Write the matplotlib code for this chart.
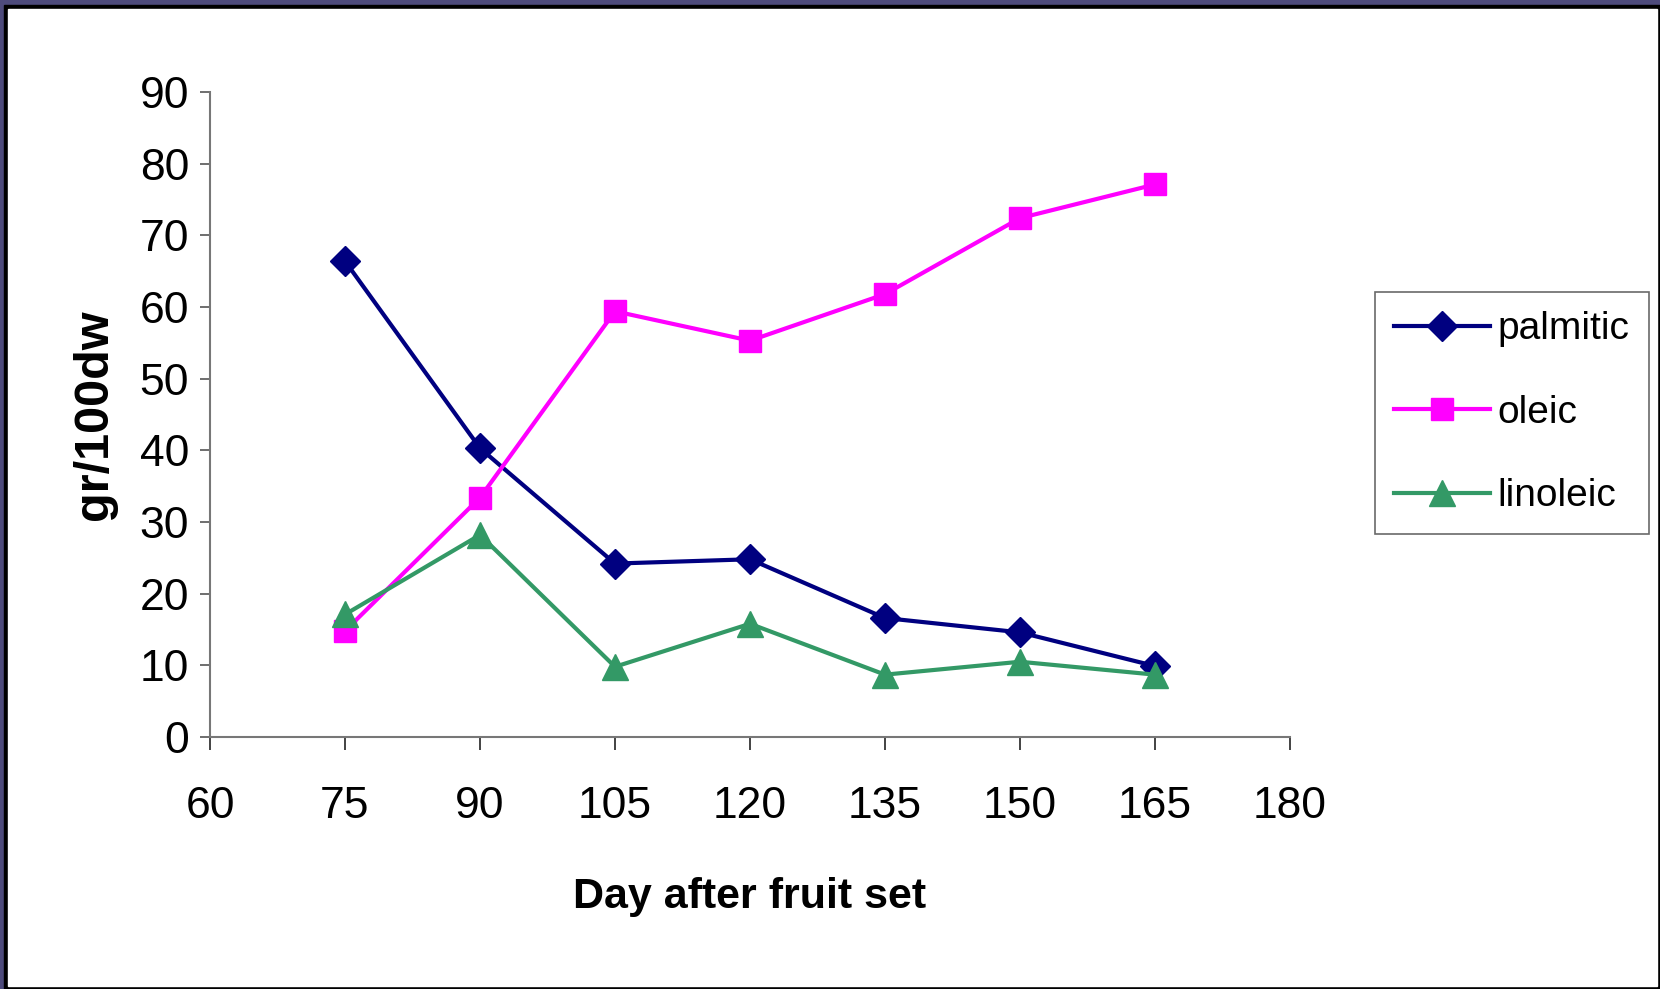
import matplotlib.pyplot as plt
from matplotlib.patches import Rectangle

# days after fruit set and fatty acid content (gr/100dw)
days = [75, 90, 105, 120, 135, 150, 165]
palmitic = [66.4, 40.3, 24.2, 24.8, 16.6, 14.6, 9.9]
oleic = [14.8, 33.4, 59.4, 55.3, 61.8, 72.4, 77.1]
linoleic = [17.1, 28.2, 9.8, 15.8, 8.7, 10.5, 8.7]

xticks = [60, 75, 90, 105, 120, 135, 150, 165, 180]
yticks = [0, 10, 20, 30, 40, 50, 60, 70, 80, 90]

plt.rcParams['font.family'] = ['Liberation Sans', 'DejaVu Sans']

W, H = 1660, 989
fig = plt.figure(figsize=(W / 100, H / 100), dpi=100)
fig.patch.set_facecolor('#4e4b7c')
# slide frame: black outline with white inside
fig.patches.append(Rectangle((4 / W, 0), 1656 / W, (H - 5) / H,
                             transform=fig.transFigure, color='black', zorder=-2))
fig.patches.append(Rectangle((8 / W, 3 / H), 1649 / W, (986 - 9) / H,
                             transform=fig.transFigure, color='white', zorder=-1))

ax = fig.add_axes([210 / W, 1 - 737 / H, 1080 / W, (737 - 92) / H])
ax.set_facecolor('none')

ax.plot(days, palmitic, color='#000080', lw=3, marker='D', ms=15, label='palmitic')
ax.plot(days, oleic, color='#ff00ff', lw=3, marker='s', ms=16, label='oleic')
ax.plot(days, linoleic, color='#339966', lw=3, marker='^', ms=19, label='linoleic')

ax.set_xlim(60, 180)
ax.set_ylim(0, 90)
ax.set_xticks(xticks)
ax.set_yticks(yticks)
for s in ['top', 'right']:
    ax.spines[s].set_visible(False)
for s in ['left', 'bottom']:
    ax.spines[s].set_color('#777777')
    ax.spines[s].set_linewidth(1.5)
ax.tick_params(axis='y', length=7, width=1.2, color='#555555', pad=8, labelsize=32)
ax.tick_params(axis='x', length=9, width=1.2, color='#222222', pad=26, labelsize=32)

ax.set_ylabel('gr/100dw', fontsize=35, fontweight='bold', labelpad=16)
ax.set_xlabel('Day after fruit set', fontsize=31, fontweight='bold', labelpad=36)

leg = fig.legend(loc='upper left', bbox_to_anchor=(1375 / W, 1 - 292 / H),
                 fontsize=28, frameon=True, fancybox=False, handlelength=2.45,
                 borderpad=0.5, labelspacing=1.22, handletextpad=0.2,
                 borderaxespad=0)
leg.get_frame().set_edgecolor('#444444')
leg.get_frame().set_linewidth(1.2)

fig.savefig('out.png', dpi=100, facecolor=fig.get_facecolor())
